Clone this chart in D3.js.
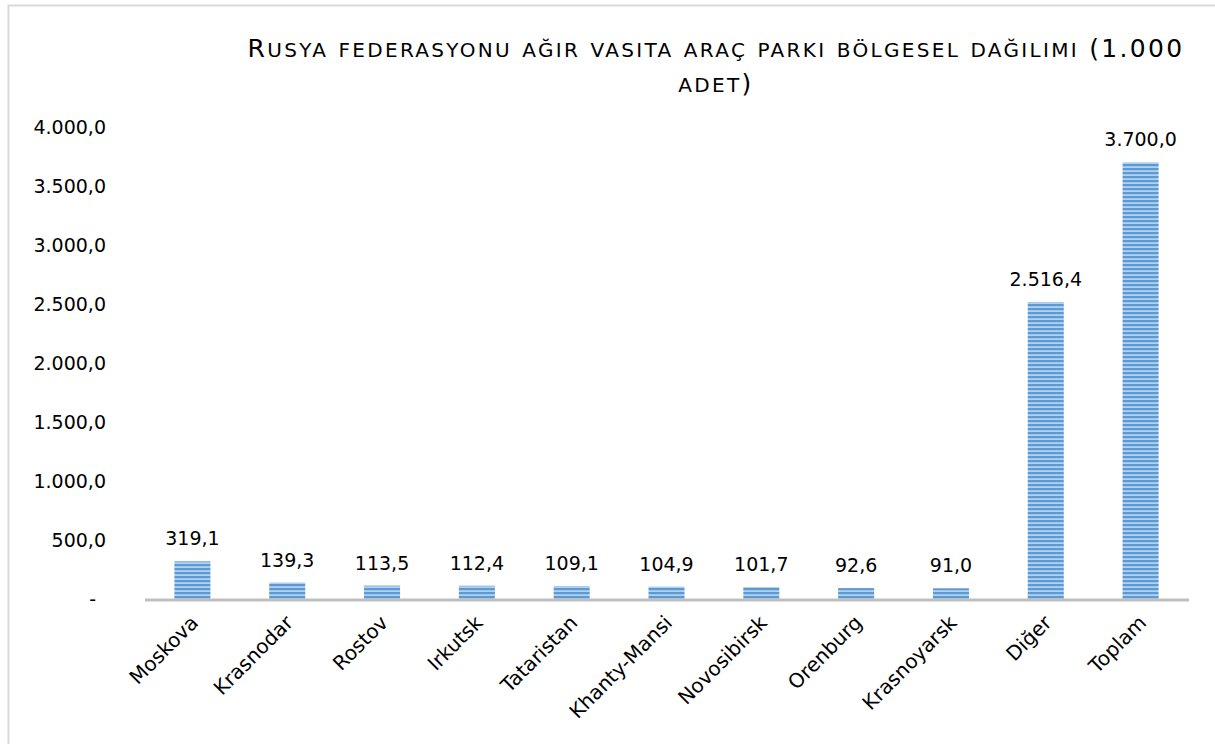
<!DOCTYPE html>
<html>
<head>
<meta charset="utf-8">
<script src="https://cdn.jsdelivr.net/npm/d3@7"></script>
<style>
  body { margin: 0; background: #fff; }
  svg text { font-family: "DejaVu Sans", sans-serif; fill: #000; }
</style>
</head>
<body>
<svg id="chart" width="1215" height="744"></svg>
<script>
const regions = ['Moskova', 'Krasnodar', 'Rostov', 'Irkutsk', 'Tataristan', 'Khanty-Mansi', 'Novosibirsk', 'Orenburg', 'Krasnoyarsk', 'Diğer', 'Toplam']
const counts = [319.1, 139.3, 113.5, 112.4, 109.1, 104.9, 101.7, 92.6, 91.0, 2516.4, 3700.0]
const yTicks = [0, 500, 1000, 1500, 2000, 2500, 3000, 3500, 4000]
const titleLines = ['Rusya federasyonu ağır vasita araç parkı bölgesel dağılımı (1.000', 'adet)']

// 1.234,5 style numbers
function fmt(v) {
  if (v === 0) return '-';
  const s = v.toFixed(1).split('.');
  return s[0].replace(/\B(?=(\d{3})+(?!\d))/g, '.') + ',' + s[1];
}

const svg = d3.select('#chart');

// outer frame (only top/left visible in the shot)
svg.append('rect')
  .attr('x', 8.5).attr('y', 5.5)
  .attr('width', 1240).attr('height', 760)
  .attr('fill', 'none')
  .attr('stroke', '#d9d9d9')
  .attr('stroke-width', 2);

// striped fill
const defs = svg.append('defs');
const pat = defs.append('pattern')
  .attr('id', 'stripes')
  .attr('patternUnits', 'userSpaceOnUse')
  .attr('width', 10).attr('height', 4);
pat.append('rect').attr('width', 10).attr('height', 4).attr('fill', '#b3d0ef');
pat.append('rect').attr('y', 0).attr('width', 10).attr('height', 2.2).attr('fill', '#5b9bd5');

const x = d3.scaleBand()
  .domain(regions)
  .range([145, 1188])
  .paddingInner(0.62)
  .paddingOuter(0.31);

const y = d3.scaleLinear()
  .domain([0, 4000])
  .range([599, 127]);

// title, faked small caps: lowercase -> smaller uppercase
const tg = svg.append('g').style('font-family', '"Open Sans", sans-serif');
const titleRows = titleLines.map((line, i) => {
  const t = tg.append('text')
    .attr('x', 716)
    .attr('y', 57 + i * 35)
    .attr('text-anchor', 'middle');
  const runs = [];
  for (const ch of line) {
    const small = ch !== ch.toUpperCase();
    const last = runs[runs.length - 1];
    if (last && last.small === small) last.s += ch;
    else runs.push({small: small, s: ch});
  }
  runs.forEach(r => {
    t.append('tspan')
      .style('font-size', r.small ? '20px' : '25px')
      .text(r.small ? r.s.toUpperCase() : r.s);
  });
  return t;
});
// stretch line 1 to the width seen in the picture, same spacing for line 2
const w0 = titleRows[0].node().getComputedTextLength();
const n0 = titleLines[0].length;
const ls = (937 - w0) / n0;
titleRows.forEach(t => t.style('letter-spacing', ls + 'px'));

// y labels
svg.append('g')
  .selectAll('text')
  .data(yTicks)
  .join('text')
  .attr('x', d => d === 0 ? 96 : 106)
  .attr('y', d => y(d))
  .attr('dy', '0.35em')
  .attr('text-anchor', 'end')
  .style('font-size', '19px')
  .text(fmt);

// bars
svg.append('g')
  .selectAll('rect')
  .data(counts)
  .join('rect')
  .attr('x', (d, i) => x(regions[i]))
  .attr('y', d => y(d))
  .attr('width', x.bandwidth())
  .attr('height', d => y(0) - y(d))
  .attr('fill', 'url(#stripes)');

// value labels
svg.append('g')
  .selectAll('text')
  .data(counts)
  .join('text')
  .attr('x', (d, i) => x(regions[i]) + x.bandwidth() / 2)
  .attr('y', d => y(d) - 16)
  .attr('text-anchor', 'middle')
  .style('font-size', '19px')
  .text(fmt);

// baseline
svg.append('line')
  .attr('x1', 145).attr('x2', 1189)
  .attr('y1', y(0) + 1).attr('y2', y(0) + 1)
  .attr('stroke', '#bfbfbf')
  .attr('stroke-width', 3);

// category labels
svg.append('g')
  .selectAll('text')
  .data(regions)
  .join('text')
  .attr('transform', d => `translate(${x(d) + x.bandwidth() / 2 + 7}, 624) rotate(-45)`)
  .attr('text-anchor', 'end')
  .style('font-size', '20px')
  .text(d => d);
</script>
</body>
</html>
